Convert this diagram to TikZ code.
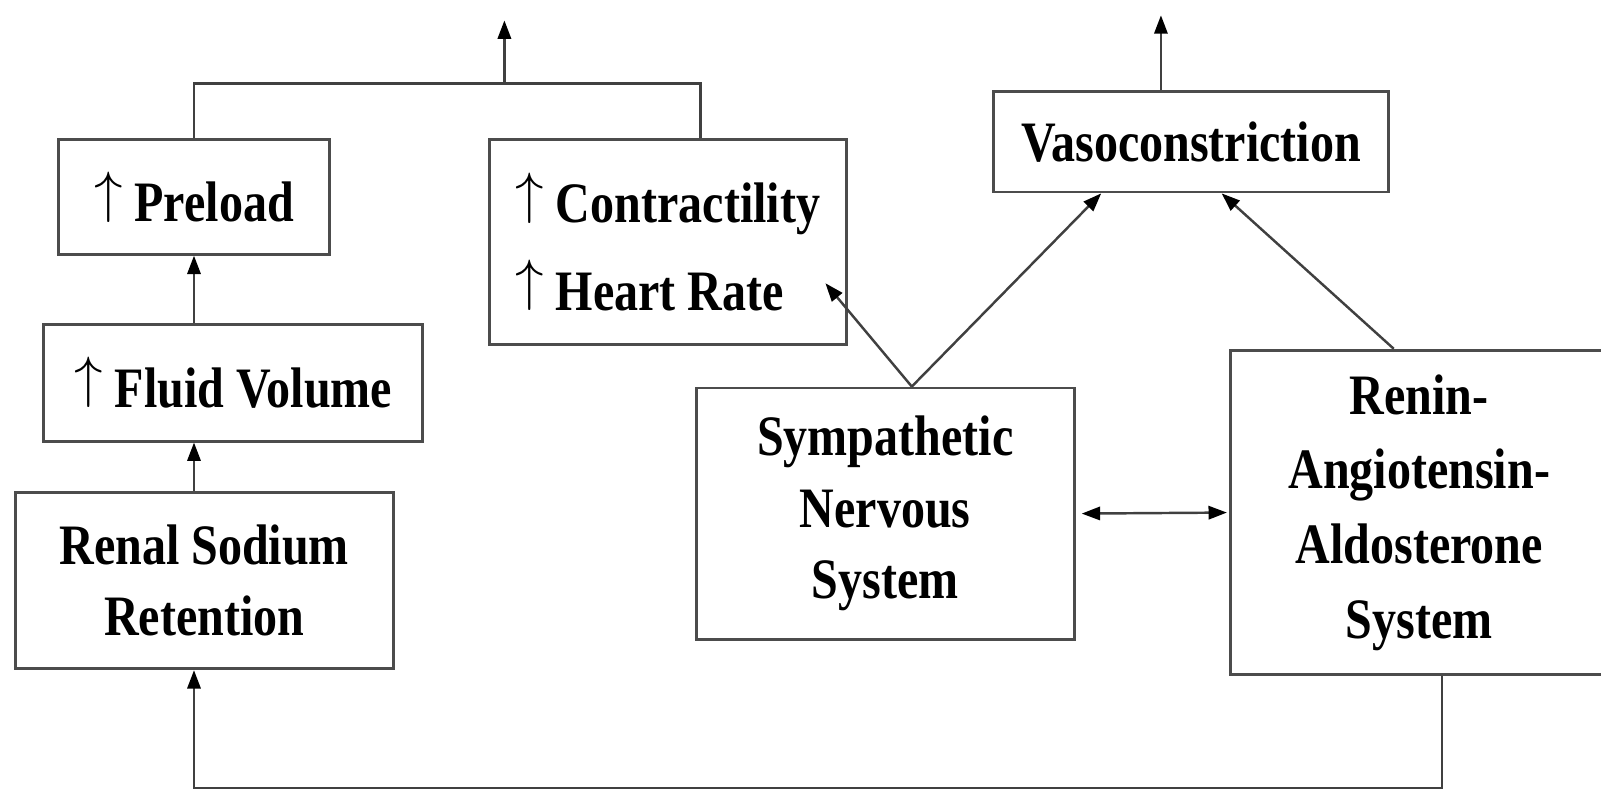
\documentclass[tikz,border=0pt]{standalone}
\usepackage{fontspec}
\setmainfont[FakeStretch=0.84]{Liberation Serif}
\usetikzlibrary{arrows.meta}
\newcommand{\uparr}{\raisebox{0.19em}{\scalebox{1.12}{$\uparrow$}}}
\begin{document}
\begin{tikzpicture}
  [x=0.5pt,y=-0.5pt,>={Triangle[length=9pt,width=6.5pt,color=black]},
   blk/.style={draw=gray!60!black,line width=1.4pt,inner sep=0pt,align=center,
     font=\bfseries\fontsize{28}{35}\selectfont},
   wire/.style={draw=black!75,line width=1.2pt}]
  \useasboundingbox (0,0) rectangle (1568,775);
  \node[blk,minimum width=132.5pt,minimum height=56pt] (pre) at (190,193) {\uparr\ Preload};
  \node[blk,minimum width=175pt,minimum height=100pt,align=left] (con) at (654,237)
    {\uparr\ Contractility\\[8pt]\uparr\ Heart Rate};
  \node[blk,minimum width=185.5pt,minimum height=57pt] (flu) at (228.5,375) {\uparr\ Fluid Volume};
  \node[blk,minimum width=185pt,minimum height=86.5pt] (ren) at (200,568.5) {Renal Sodium\\Retention};
  \node[blk,minimum width=193.5pt,minimum height=49pt] (vaso) at (1166.5,139) {Vasoconstriction};
  \node[blk,minimum width=185pt,minimum height=123pt] (sns) at (867,503) {Sympathetic\\Nervous\\System};
  \node[blk,minimum width=185pt,minimum height=159pt,
    font=\bfseries\fontsize{28}{36.5}\selectfont] (raas) at (1390,502)
    {Renin-\\Angiotensin-\\Aldosterone\\System};

  \coordinate (jn) at (494,82);
  \coordinate (outL) at (494,20);
  \coordinate (outR) at (1137,15);
  \coordinate (bot) at (190,772);

  \draw[wire] (pre.north) |- (jn) -| ([xshift=16pt]con.north);
  \draw[wire,->] (jn) -- (outL);
  \draw[wire,->] (vaso.north -| outR) -- (outR);
  \draw[wire,->] (flu.north -| pre.south) -- (pre.south);
  \draw[wire,->] (ren.north -| pre.south) -- (flu.south -| pre.south);
  \draw[wire,->] ([xshift=13pt]sns.north) -- ([xshift=-11pt,yshift=30.5pt]con.south east);
  \draw[wire,->] ([xshift=13pt]sns.north) -- ([xshift=-44pt]vaso.south);
  \draw[wire,->] ([xshift=-12.5pt]raas.north) -- ([xshift=15pt]vaso.south);
  \draw[wire,<->] ([xshift=3pt]sns.east) -- ([xshift=-1pt]raas.west);
  \draw[wire,->] ([xshift=11pt]raas.south) |- (bot) -- (ren.south -| bot);
\end{tikzpicture}
\end{document}
